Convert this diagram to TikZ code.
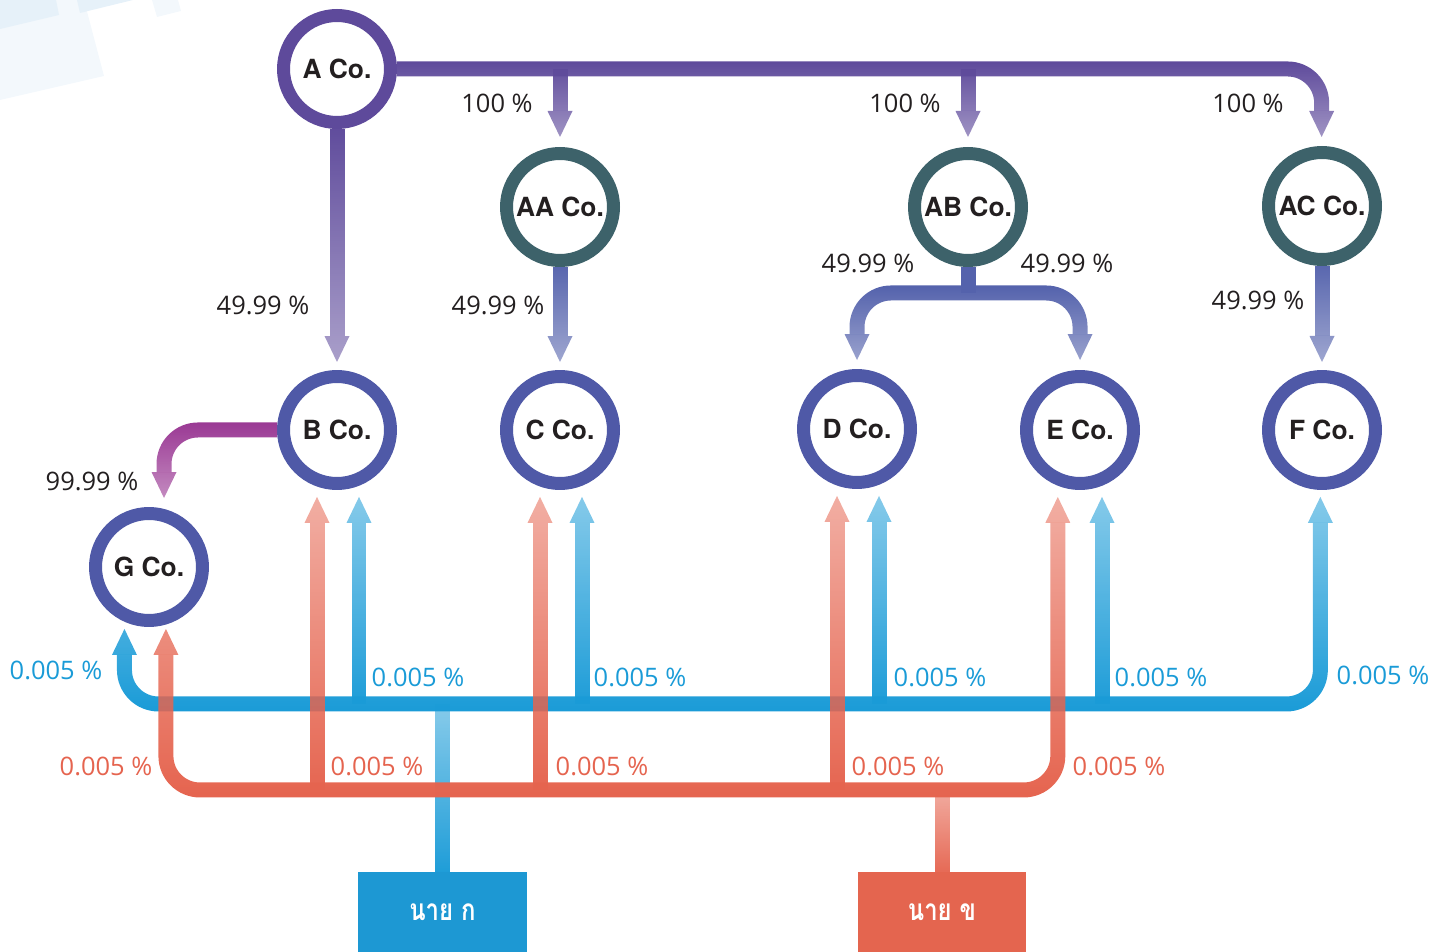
\documentclass[tikz,border=0pt]{standalone}
\usepackage{fontspec}
\usepackage{graphicx}
\setmainfont{Open Sans}
\newfontfamily\cofont{TeX Gyre Heros}
\newfontfamily\thaifont[Script=Thai]{Loma}
\usepackage{tikz}
\usetikzlibrary{positioning,arrows.meta,fadings}
\usepackage{xcolor}

\definecolor{ringA}{HTML}{5E4A9B}
\definecolor{ringTop}{HTML}{3D626A}
\definecolor{ringSub}{HTML}{4F59A7}
\definecolor{lnPurple}{HTML}{5E4A9B}
\definecolor{lnSlate}{HTML}{5462AC}
\definecolor{lnMagenta}{HTML}{9A3994}
\definecolor{lnBlue}{HTML}{1A9BD7}
\definecolor{lnRed}{HTML}{E5644F}
\definecolor{txtDark}{HTML}{231F20}
\definecolor{boxBlue}{HTML}{1D98D3}
\definecolor{boxRed}{HTML}{E4654F}
\definecolor{bgLight}{HTML}{E6F1F9}
\definecolor{bgPale}{HTML}{F3F8FC}

\newcommand{\thainame}[1]{\scalebox{0.8}[1]{#1}}

\tikzfading[name=fadedown, top color=transparent!0, bottom color=transparent!50]
\tikzfading[name=fadeup, top color=transparent!50, bottom color=transparent!0]

\tikzset{
  co/.style={circle, line width=0.26cm, minimum size=2.14cm, inner sep=0pt, fill=white,
    font=\cofont\fontsize{15}{18}\selectfont\bfseries, text=txtDark},
  person/.style={rectangle, minimum width=3.38cm, minimum height=1.6cm, inner sep=0pt,
    text=white, font=\thaifont\fontsize{17}{20}\selectfont\bfseries},
  pct/.style={font=\fontsize{14.5}{17}\selectfont, text=txtDark, inner sep=0pt},
  pctblue/.style={pct, text=lnBlue},
  pctred/.style={pct, text=lnRed},
  flow/.style={line width=0.3cm, rounded corners=0.68cm},
  flowdown/.style={flow, path fading=fadedown},
  flowup/.style={flow, path fading=fadeup},
  arrowend/.style={-{Triangle[width=0.5cm, length=0.52cm, line width=0pt]}},
  arrowboth/.style={{Triangle[width=0.5cm, length=0.52cm, line width=0pt]}-{Triangle[width=0.5cm, length=0.52cm, line width=0pt]}}
}

\begin{document}
\begin{tikzpicture}[x=0.02cm, y=-0.02cm]
\useasboundingbox (0,0) rectangle (1444,952);

% faint squares top left
\fill[bgPale] (0,100) -- (104,76) -- (84,0) -- (0,0) -- cycle;
\fill[bgLight] (0,0) -- (0,29) -- (59,15) -- (56,0) -- cycle;
\fill[bgLight] (77,0) -- (80,13) -- (133,0) -- cycle;
\fill[bgPale] (152,0) -- (157,17) -- (181,11) -- (178,0) -- cycle;

% companies
\node[co, draw=ringA] (A) at (337,69) {A Co.};
\node[co, draw=ringTop] (AA) at (560,207) {AA Co.};
\node[co, draw=ringTop] (AB) at (968,207) {AB Co.};
\node[co, draw=ringTop] (AC) at (1322,206) {AC Co.};
\node[co, draw=ringSub] (B) at (337,430) {B Co.};
\node[co, draw=ringSub] (C) at (560,430) {C Co.};
\node[co, draw=ringSub] (D) at (857,429) {D Co.};
\node[co, draw=ringSub] (E) at (1080,430) {E Co.};
\node[co, draw=ringSub] (F) at (1322,430) {F Co.};
\node[co, draw=ringSub] (G) at (149,567) {G Co.};

% persons
\node[person, fill=boxBlue] (kA) at (442.5,912) {\thainame{นาย ก}};
\node[person, fill=boxRed] (kB) at (942,912) {\thainame{นาย ข}};

% A Co. holdings
\draw[flowdown, lnPurple, arrowend, shorten >=0.18cm] (A) -| (AC);
\foreach \c in {AA,AB}
  \draw[flowdown, lnPurple, arrowend, shorten >=0.2cm] (\c |- A) -- (\c);
\draw[flowdown, lnPurple, arrowend, shorten >=0.16cm] (A) -- (B);

% second tier
\draw[flowdown, lnSlate, arrowend, shorten >=0.16cm] (AA) -- (C);
\draw[flowdown, lnSlate, arrowend, shorten >=0.16cm] (AC) -- (F);
\coordinate (ABfork) at (968,293);
\draw[flow, lnSlate] (AB) -- (ABfork);
\draw[flowdown, lnSlate, arrowboth, shorten <=0.18cm, shorten >=0.2cm] (D) |- (ABfork) -| (E);
\draw[flowdown, lnMagenta, arrowend, shorten >=0.18cm] (B) -| ([xshift=0.3cm]G.north);

% นาย ก
\coordinate (bbus) at (442,704);
\draw[flowup, lnBlue] (kA) -- (kA |- bbus);
\draw[flowup, lnBlue, arrowboth, shorten <=0.04cm, shorten >=0.14cm] ([xshift=-0.48cm]G.south) |- (bbus) -| (F);
\foreach \c in {B,C,D,E}
  \draw[flowup, lnBlue, arrowend, shorten >=0.14cm] ([xshift=0.44cm]\c |- bbus) -- ([xshift=0.44cm]\c.south);

% นาย ข
\coordinate (rbus) at (942,790);
\draw[flowup, lnRed] (kB) -- (kB |- rbus);
\draw[flowup, lnRed, arrowboth, shorten <=0.04cm, shorten >=0.14cm] ([xshift=0.34cm]G.south) |- (rbus) -| ([xshift=-0.44cm]E.south);
\foreach \c in {B,C,D}
  \draw[flowup, lnRed, arrowend, shorten >=0.14cm] ([xshift=-0.4cm]\c |- rbus) -- ([xshift=-0.4cm]\c.south);

% shares
\node[pct] (pAA) at (497,103) {100 \%};
\node[pct] (pAB) at (905,103) {100 \%};
\node[pct] (pAC) at (1248,103) {100 \%};
\node[pct] (pB) at (263,305) {49.99 \%};
\node[pct] (pC) at (498,305) {49.99 \%};
\node[pct] (pD) at (868,263) {49.99 \%};
\node[pct] (pE) at (1067,263) {49.99 \%};
\node[pct] (pF) at (1258,300) {49.99 \%};
\node[pct] (pG) at (92,481) {99.99 \%};

\foreach \x/\y [count=\i] in {56/670,418/677,640/677,940/677,1161/677,1383/675}
  \node[pctblue] (kAp\i) at (\x,\y) {0.005 \%};
\foreach \x/\y [count=\i] in {106/766,377/766,602/766,898/766,1119/766}
  \node[pctred] (kBp\i) at (\x,\y) {0.005 \%};
\end{tikzpicture}
\end{document}
